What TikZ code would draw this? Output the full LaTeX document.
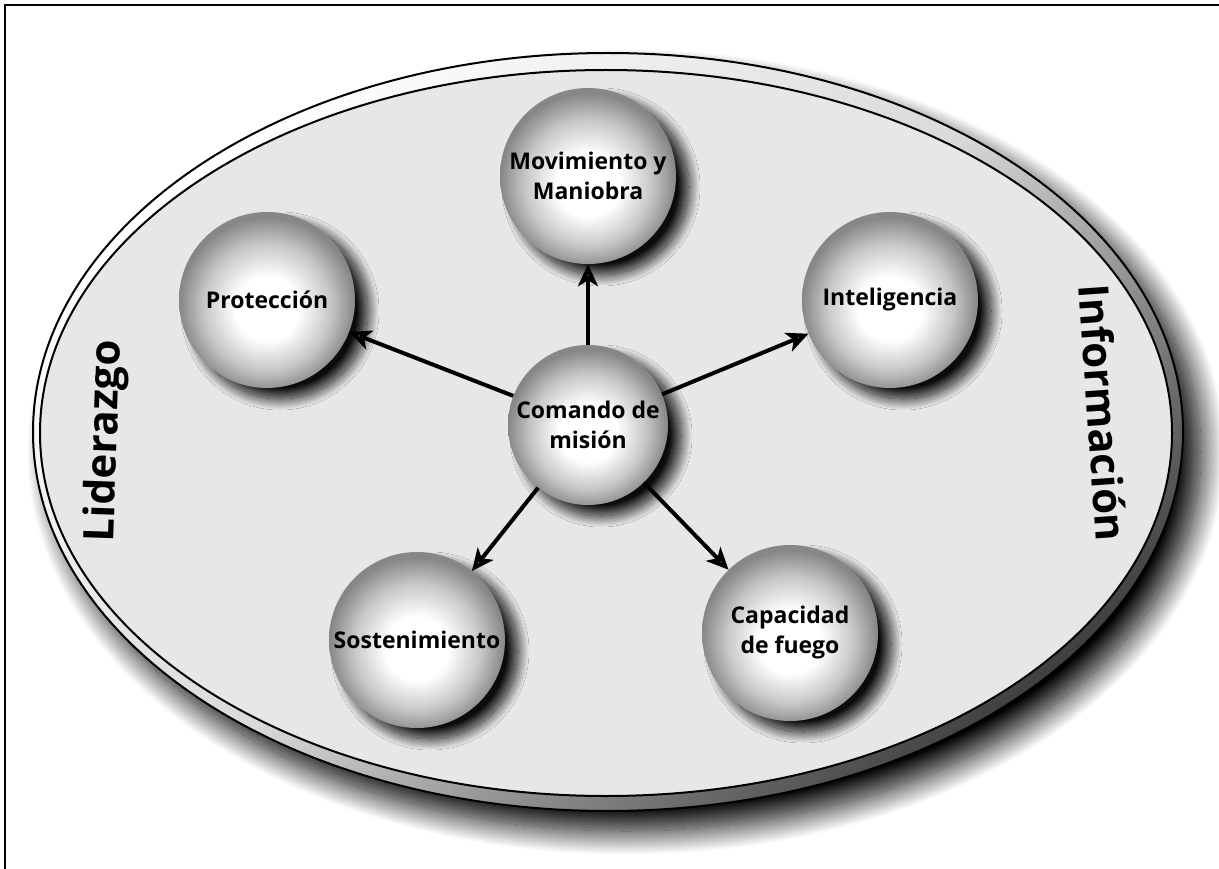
\documentclass[tikz,border=0pt]{standalone}
\usepackage{fontspec}
\setmainfont{Open Sans}
\usetikzlibrary{arrows.meta,shadows,shadows.blur}
\definecolor{platefill}{RGB}{230,231,232}
\pgfdeclareradialshading{sphereshade}{\pgfpoint{0bp}{-3bp}}{color(0bp)=(white); color(9bp)=(white); color(18bp)=(black!22); color(25bp)=(black!47); color(50bp)=(black!47)}
\tikzstyle{sphere}=[circle,shade,shading=sphereshade,minimum size=176pt,inner sep=0pt,align=center,font=\fontsize{23}{30}\selectfont\bfseries,blur shadow={shadow xshift=13pt,shadow yshift=-11pt,shadow blur radius=11pt,shadow blur steps=30,shadow opacity=95}]
\tikzstyle{edge} = [draw,line width=4pt,-{Stealth[length=22pt,width=20pt,inset=6pt]}]
\tikzstyle{sidelabel} = [font=\fontsize{42}{50}\selectfont\bfseries]

\begin{document}
\begin{tikzpicture}[x=1pt,y=-1pt]
\useasboundingbox (0,0) rectangle (1219,869);

% frame
\draw[line width=1.3pt] (5,5) rectangle (1240,890);

% plate
\path[blur shadow={shadow xshift=18pt,shadow yshift=-20pt,shadow blur radius=24pt,shadow blur steps=40,shadow opacity=100},
      draw,line width=2pt,top color=white,bottom color=black!75,middle color=black!15,shading angle=40]
      (608,432) ellipse [x radius=575,y radius=379];
\path[draw,line width=2pt,fill=platefill] (606,433) ellipse [x radius=566,y radius=363];

% Label
\node[sidelabel,rotate=88] (lid) at (106,441) {Liderazgo};
\node[sidelabel,rotate=-86] (inf) at (1103,413) {Información};

% spheres
\foreach \pos/\name/\label in {{(588,176)/mov/{Movimiento y\\Maniobra}},{(267,300)/pro/Protección},{(890,300)/int/Inteligencia},{(417,640)/sos/Sostenimiento},{(790,633)/cap/{Capacidad\\de fuego}}}
    \node[sphere] (\name) at \pos {\label};
\node[sphere,minimum size=160pt] (com) at (588,425) {Comando de\\misión};

\foreach \dest in {mov,pro,int,sos,cap}
    \path[edge] (com) -- (\dest);

\end{tikzpicture}
\end{document}
